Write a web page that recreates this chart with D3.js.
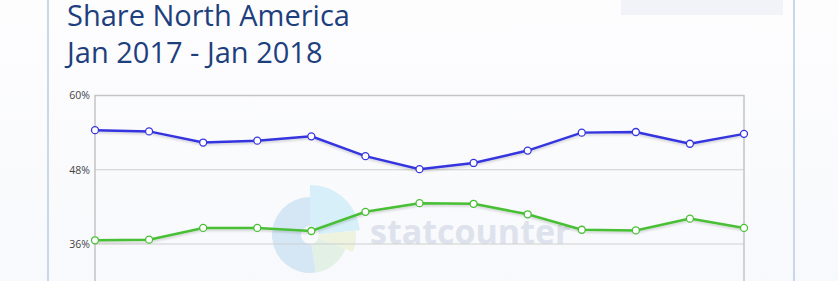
<!DOCTYPE html>
<html>
<head>
<meta charset="utf-8">
<script src="https://cdn.jsdelivr.net/npm/d3@7"></script>
<style>
  body { margin: 0; background: #fbfbfd; overflow: hidden; }
  svg { display: block; }
</style>
</head>
<body>
<div class="chart"></div>
<script>
var svgWidth = 838;
var svgHeight = 281;

// monthly share, Jan 2017 .. Jan 2018
var months = ["2017-01", "2017-02", "2017-03", "2017-04", "2017-05", "2017-06", "2017-07",
  "2017-08", "2017-09", "2017-10", "2017-11", "2017-12", "2018-01"];
var blueSeries = [54.4, 54.2, 52.4, 52.7, 53.4, 50.2, 48.1, 49.1, 51.1, 54.0, 54.1, 52.2, 53.8];
var greenSeries = [36.6, 36.7, 38.6, 38.6, 38.1, 41.2, 42.6, 42.5, 40.8, 38.3, 38.2, 40.1, 38.6];
var yTicks = [36, 48, 60];

var margin = { top: 95.5, left: 95, right: 94, bottom: 0 };
var width = svgWidth - margin.left - margin.right;

var svg = d3.select(".chart").append("svg")
  .attr("width", svgWidth)
  .attr("height", svgHeight);

var defs = svg.append("defs");
var grad = defs.append("linearGradient").attr("id", "bg").attr("x1", 0).attr("y1", 0).attr("x2", 0).attr("y2", 1);
grad.append("stop").attr("offset", "0").attr("stop-color", "#fdfdfe");
grad.append("stop").attr("offset", "1").attr("stop-color", "#f8f9fc");
var sh = defs.append("filter").attr("id", "shadow").attr("x", "-5%").attr("y", "-20%").attr("width", "110%").attr("height", "160%");
sh.append("feDropShadow").attr("dx", 0).attr("dy", 1.5).attr("stdDeviation", 1).attr("flood-color", "#000").attr("flood-opacity", 0.18);

svg.append("rect").attr("width", svgWidth).attr("height", svgHeight).attr("fill", "url(#bg)");

// page frame
svg.append("line").attr("x1", 48).attr("x2", 48).attr("y1", 0).attr("y2", svgHeight)
  .attr("stroke", "#cad7ea").attr("stroke-width", 2);
svg.append("line").attr("x1", 794).attr("x2", 794).attr("y1", 0).attr("y2", svgHeight)
  .attr("stroke", "#cad7ea").attr("stroke-width", 2);
svg.append("rect").attr("x", 621).attr("y", 0).attr("width", 162).attr("height", 15).attr("fill", "#f2f3f8");

// title
var title = svg.append("text")
  .attr("font-family", "'Open Sans', sans-serif")
  .attr("font-size", 29)
  .attr("fill", "#1e3f7d");
title.append("tspan").attr("x", 67).attr("y", 25.5).text("Share North America");
title.append("tspan").attr("x", 67).attr("y", 63).text("Jan 2017 - Jan 2018");

var x = d3.scalePoint().domain(months).range([0, width]);
var y = d3.scaleLinear().domain([36, 60]).range([244, 95.5].map(v => v - margin.top));

var chartGroup = svg.append("g")
  .attr("transform", `translate(${margin.left}, ${margin.top})`);

// watermark
var wm = chartGroup.append("g").attr("transform", `translate(${310 - margin.left}, ${235 - margin.top})`);
var arc = d3.arc();
wm.append("path").attr("d", arc({ innerRadius: 9, outerRadius: 38, startAngle: Math.PI * 0.95, endAngle: Math.PI * 2 }))
  .attr("fill", "#d5e6f5");
wm.append("path").attr("d", arc({ innerRadius: 9, outerRadius: 50, startAngle: 0, endAngle: Math.PI * 0.47 }))
  .attr("fill", "#d6eff9");
wm.append("path").attr("d", arc({ innerRadius: 9, outerRadius: 46, startAngle: Math.PI * 0.47, endAngle: Math.PI * 0.62 }))
  .attr("fill", "#eef3df");
wm.append("path").attr("d", arc({ innerRadius: 9, outerRadius: 38, startAngle: Math.PI * 0.62, endAngle: Math.PI * 0.95 }))
  .attr("fill", "#e3f0e6");
chartGroup.append("text")
  .attr("x", 370 - margin.left).attr("y", 244 - margin.top)
  .attr("font-family", "'Open Sans', sans-serif")
  .attr("font-weight", "bold")
  .attr("font-size", 34)
  .attr("fill", "#dde2ec")
  .text("statcounter");

// grid lines
chartGroup.append("g")
  .selectAll("line").data(yTicks).enter().append("line")
  .attr("x1", 0).attr("x2", width)
  .attr("y1", d => y(d)).attr("y2", d => y(d))
  .attr("stroke", "#cfcfcf").attr("stroke-width", 1);

// plot frame
chartGroup.append("path")
  .attr("d", `M0,${svgHeight}V0H${width}V${svgHeight}`)
  .attr("fill", "none").attr("stroke", "#c4c4c4").attr("stroke-width", 1.5);

// y axis labels
var leftAxis = d3.axisLeft(y).tickValues(yTicks).tickFormat(d => d + "%").tickSize(0).tickPadding(5);
var yAxis = chartGroup.append("g").call(leftAxis);
yAxis.select(".domain").remove();
yAxis.selectAll("text")
  .attr("font-family", "'Open Sans', sans-serif")
  .attr("font-size", 10.5)
  .attr("fill", "#444");

var line = d3.line().x((d, i) => x(months[i])).y(d => y(d));

function drawSeries(data, color) {
  chartGroup.append("path")
    .datum(data)
    .attr("d", line)
    .attr("fill", "none")
    .attr("stroke", color)
    .attr("stroke-width", 2.5)
    .attr("filter", "url(#shadow)");
  chartGroup.append("g").selectAll("circle")
    .data(data).enter().append("circle")
    .attr("cx", (d, i) => x(months[i]))
    .attr("cy", d => y(d))
    .attr("r", 3.5)
    .attr("fill", "#fff")
    .attr("stroke", color)
    .attr("stroke-width", 1.3);
}

drawSeries(blueSeries, "#3535e0");
drawSeries(greenSeries, "#48bf35");
</script>
</body>
</html>
